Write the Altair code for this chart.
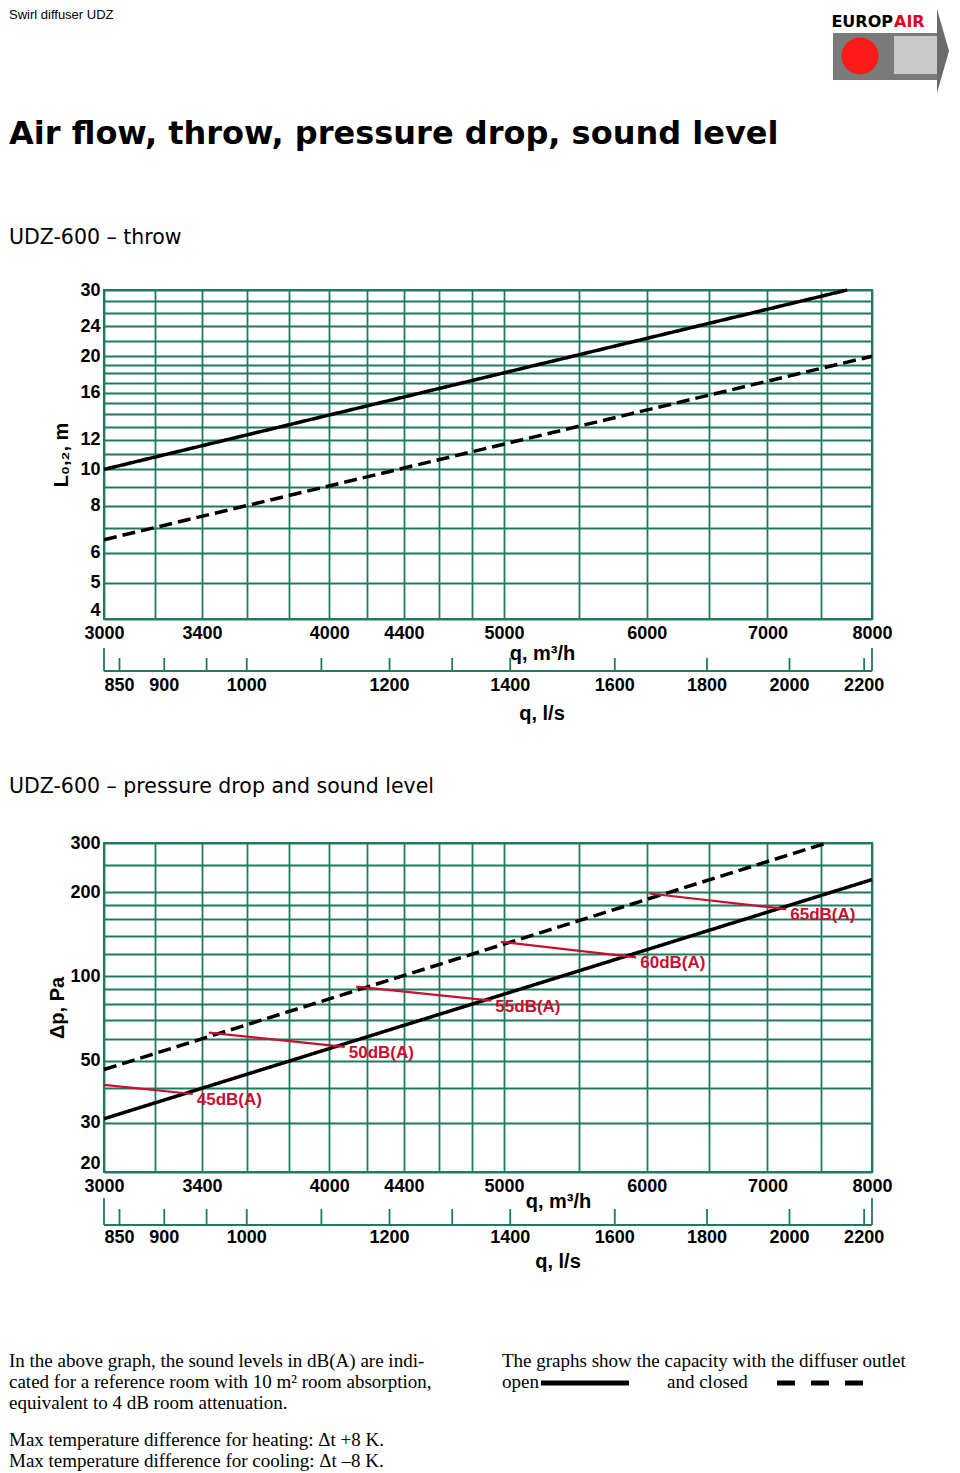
import altair as alt
import pandas as pd

# ---------------- data ----------------
x_grid = [3000, 3200, 3400, 3600, 3800, 4000, 4200, 4400, 4600, 4800, 5000,
          5500, 6000, 6500, 7000, 7500, 8000]
x_labels = [3000, 3400, 4000, 4400, 5000, 6000, 7000, 8000]
ls_ticks = [850, 900, 950, 1000, 1100, 1200, 1300, 1400, 1600, 1800, 2000, 2200]
ls_labels = [850, 900, 1000, 1200, 1400, 1600, 1800, 2000, 2200]

throw_y_grid = [4, 5, 6, 7, 8, 9, 10, 11, 12, 13, 14, 15, 16, 17, 18, 19, 20,
                22, 24, 26, 28, 30]
throw_y_labels = [4, 5, 6, 8, 10, 12, 16, 20, 24, 30]
throw_series = ["open", "open", "closed", "closed"]
throw_q = [3000, 7750, 3000, 8000]
throw_L = [10, 30, 6.5, 20]

dp_y_grid = [20, 30, 40, 50, 60, 70, 80, 90, 100, 120, 140, 160, 180, 200, 250, 300]
dp_y_labels = [20, 30, 50, 100, 200, 300]
dp_series = ["open", "open", "closed", "closed"]
dp_q = [3000, 8000, 3000, 7550]
dp_p = [31, 222, 46.5, 300]

sound_labels = ["45dB(A)", "50dB(A)", "55dB(A)", "60dB(A)", "65dB(A)"]
sound_q_start = [3000, 3430, 4140, 4980, 6020]
sound_p_start = [41, 63, 92, 133, 198]
sound_q_end = [3360, 4080, 4920, 5920, 7170]
sound_p_end = [38, 56, 82, 117, 174]

page_header = "Swirl diffuser UDZ"
page_title = "Air flow, throw, pressure drop, sound level"
throw_title = "UDZ-600 \u2013 throw"
dp_title = "UDZ-600 \u2013 pressure drop and sound level"
note_left = ["In the above graph, the sound levels in dB(A) are indi-",
             "cated for a reference room with 10 m\u00b2 room absorption,",
             "equivalent to 4 dB room attenuation."]
note_temp = ["Max temperature difference for heating: \u0394t +8 K.",
             "Max temperature difference for cooling: \u0394t \u20138 K."]
note_right = "The graphs show the capacity with the diffuser outlet"
legend_open = "open"
legend_closed = "and closed"
logo_a = "EUROP"
logo_b = "AIR"

# ---------------- styles ----------------
GREEN = "#1e7b5e"
RED = "#c8102e"
SANS = "Liberation Sans"
SERIF = "Liberation Serif"
TITLE_FONT = "DejaVu Sans"
W, H = 768, 329

xscale = alt.Scale(type="log", domain=[3000, 8000], nice=False)


def lab_expr(vals):
    return "indexof([" + ",".join(str(v) for v in vals) + "], datum.value) >= 0 ? datum.label : ''"


def x_axis(title_x, title_y):
    return alt.Axis(values=x_grid, labelExpr=lab_expr(x_labels), format="d",
                    grid=True, gridColor=GREEN, gridWidth=1.8, gridOpacity=1,
                    ticks=False, tickSize=0, domain=False, labelFlush=False,
                    labelFont=SANS, labelFontSize=18, labelFontWeight="bold",
                    labelColor="black", labelPadding=5, labelOverlap=False,
                    title="q, m\u00b3/h", titleFont=SANS, titleFontSize=20,
                    titleFontWeight="bold", titleColor="black", titleX=title_x,
                    titleY=title_y, titleAlign="center", titleBaseline="middle")


def y_axis(vals, labels, title, tpad):
    low = vals[0]
    return alt.Axis(values=vals, labelExpr=lab_expr(labels), format="d",
                    grid=True, gridColor=GREEN, gridWidth=1.8, gridOpacity=1,
                    ticks=False, tickSize=0, domain=False,
                    labelFont=SANS, labelFontSize=18, labelFontWeight="bold",
                    labelColor="black", labelPadding=4, labelOverlap=False,
                    labelBaseline={"condition": {"test": "datum.value <= %s" % low,
                                                 "value": "bottom"},
                                   "value": "middle"},
                    title=title, titleFont=SANS, titleFontSize=20,
                    titleFontWeight="bold", titleColor="black", titlePadding=tpad)


one = pd.DataFrame({"a": [0]})


def text_at(txt, x, y, size, font, weight="normal", color="black",
            align="left", baseline="middle"):
    return alt.Chart(pd.DataFrame({"t": [txt]})).mark_text(
        align=align, baseline=baseline, font=font, fontSize=size,
        fontWeight=weight, color=color).encode(
        x=alt.value(x), y=alt.value(y), text="t:N")


def ls_axis(xax, base_y, tick_y, end_y, label_y, title_x, title_y):
    ls_df = pd.DataFrame({"ls": ls_ticks})
    lab_df = pd.DataFrame({"ls": ls_labels})
    end_df = pd.DataFrame({"q": [x_grid[0], x_grid[-1]]})
    base = alt.Chart(one).mark_rule(color=GREEN, strokeWidth=1.8).encode(
        x=alt.value(0), x2=alt.value(W), y=alt.value(base_y))
    ends = alt.Chart(end_df).mark_rule(color=GREEN, strokeWidth=1.8).encode(
        x=alt.X("q:Q", scale=xscale, axis=xax), y=alt.value(end_y), y2=alt.value(base_y))
    ticks = alt.Chart(ls_df).transform_calculate(q="datum.ls * 3.6").mark_rule(
        color=GREEN, strokeWidth=1.8).encode(
        x=alt.X("q:Q", scale=xscale, axis=xax), y=alt.value(tick_y), y2=alt.value(base_y))
    labels = alt.Chart(lab_df).transform_calculate(q="datum.ls * 3.6").mark_text(
        font=SANS, fontSize=18, fontWeight="bold", color="black",
        baseline="middle", align="center").encode(
        x=alt.X("q:Q", scale=xscale, axis=xax), y=alt.value(label_y), text="ls:Q")
    title = text_at("q, l/s", title_x, title_y, 20, SANS, "bold", align="center")
    return [base, ends, ticks, labels, title]


dash_scale = alt.Scale(domain=["open", "closed"], range=[[1, 0], [13, 6]])

# ---------------- throw panel ----------------
xa1 = x_axis(438, 34)
ya1 = y_axis(throw_y_grid, throw_y_labels, "L\u2080,\u2082, m", 8)
ys1 = alt.Scale(type="log", domain=[4, 30], nice=False)
throw_df = pd.DataFrame({"series": throw_series, "q": throw_q, "v": throw_L})
throw_lines = alt.Chart(throw_df).mark_line(color="black", strokeWidth=3.5).encode(
    x=alt.X("q:Q", scale=xscale, axis=xa1),
    y=alt.Y("v:Q", scale=ys1, axis=ya1),
    strokeDash=alt.StrokeDash("series:N", scale=dash_scale, legend=None))

header = [
    text_at(page_header, -95, -281, 13, SANS, baseline="top"),
    text_at(page_title, -95, -146, 32, TITLE_FONT, "bold", baseline="alphabetic"),
    text_at(throw_title, -95, -46, 20.5, TITLE_FONT, baseline="alphabetic"),
    # logo
    alt.Chart(one).mark_rect(color="#7a7a7a").encode(
        x=alt.value(729), x2=alt.value(833), y=alt.value(-257), y2=alt.value(-210)),
    alt.Chart(one).mark_rect(color="#c9c9c9").encode(
        x=alt.value(790), x2=alt.value(833), y=alt.value(-254), y2=alt.value(-216)),
    alt.Chart(one).mark_point(shape="circle", filled=True, size=1369, color="#ff1a1a",
                              opacity=1).encode(x=alt.value(756), y=alt.value(-234)),
    alt.Chart(one).mark_point(shape="M -0.143 -1 L 0.143 0 L -0.143 1 Z", filled=True,
                              size=7056, color="#6b6b6b", opacity=1).encode(
        x=alt.value(839), y=alt.value(-239)),
    text_at(logo_a, 789, -268, 16, TITLE_FONT, "bold", "black", align="right"),
    text_at(logo_b, 790, -268, 16, TITLE_FONT, "bold", "#e3001b"),
]

throw_panel = alt.layer(
    throw_lines,
    *ls_axis(xa1, 381, 368, 358, 396, 438, 424),
    *header,
).properties(width=W, height=H)

# ---------------- pressure panel ----------------
xa2 = x_axis(454, 29)
ya2 = y_axis(dp_y_grid, dp_y_labels, "\u0394p, Pa", 2)
ys2 = alt.Scale(type="log", domain=[20, 300], nice=False)
dp_df = pd.DataFrame({"series": dp_series, "q": dp_q, "v": dp_p})
dp_lines = alt.Chart(dp_df).mark_line(color="black", strokeWidth=3.5).encode(
    x=alt.X("q:Q", scale=xscale, axis=xa2),
    y=alt.Y("v:Q", scale=ys2, axis=ya2),
    strokeDash=alt.StrokeDash("series:N", scale=dash_scale, legend=None))

snd_df = pd.DataFrame({"label": sound_labels, "q": sound_q_start, "v": sound_p_start,
                       "q2": sound_q_end, "v2": sound_p_end})
snd_rules = alt.Chart(snd_df).mark_rule(color=RED, strokeWidth=2.2).encode(
    x=alt.X("q:Q", scale=xscale, axis=xa2), x2="q2:Q",
    y=alt.Y("v:Q", scale=ys2, axis=ya2), y2="v2:Q")
snd_text = alt.Chart(snd_df).mark_text(
    align="left", baseline="middle", dx=4, dy=6, font=SANS, fontSize=17,
    fontWeight="bold", color=RED).encode(
    x=alt.X("q2:Q", scale=xscale, axis=xa2),
    y=alt.Y("v2:Q", scale=ys2, axis=ya2), text="label:N")

footer = [text_at(dp_title, -95, -50, 20.5, TITLE_FONT, baseline="alphabetic")]
for i, line in enumerate(note_left):
    footer.append(text_at(line, -95, 518 + 21 * i, 19, SERIF))
for i, line in enumerate(note_temp):
    footer.append(text_at(line, -95, 597 + 21 * i, 19, SERIF))
footer += [
    text_at(note_right, 398, 518, 19, SERIF),
    text_at(legend_open, 398, 539, 19, SERIF),
    text_at(legend_closed, 563, 539, 19, SERIF),
    alt.Chart(one).mark_rule(color="black", strokeWidth=5).encode(
        x=alt.value(437), x2=alt.value(525), y=alt.value(540)),
    alt.Chart(one).mark_rule(color="black", strokeWidth=5, strokeDash=[18, 16]).encode(
        x=alt.value(673), x2=alt.value(759), y=alt.value(540)),
]

dp_panel = alt.layer(
    dp_lines, snd_rules, snd_text,
    *ls_axis(xa2, 382, 366, 355, 395, 454, 419),
    *footer,
).properties(width=W, height=H)

chart = alt.vconcat(throw_panel, dp_panel, spacing=224, bounds="flush").properties(
    padding=0
).configure_view(stroke=GREEN, strokeWidth=2)

chart.save("out.html", embed_options={"renderer": "svg", "actions": False})
